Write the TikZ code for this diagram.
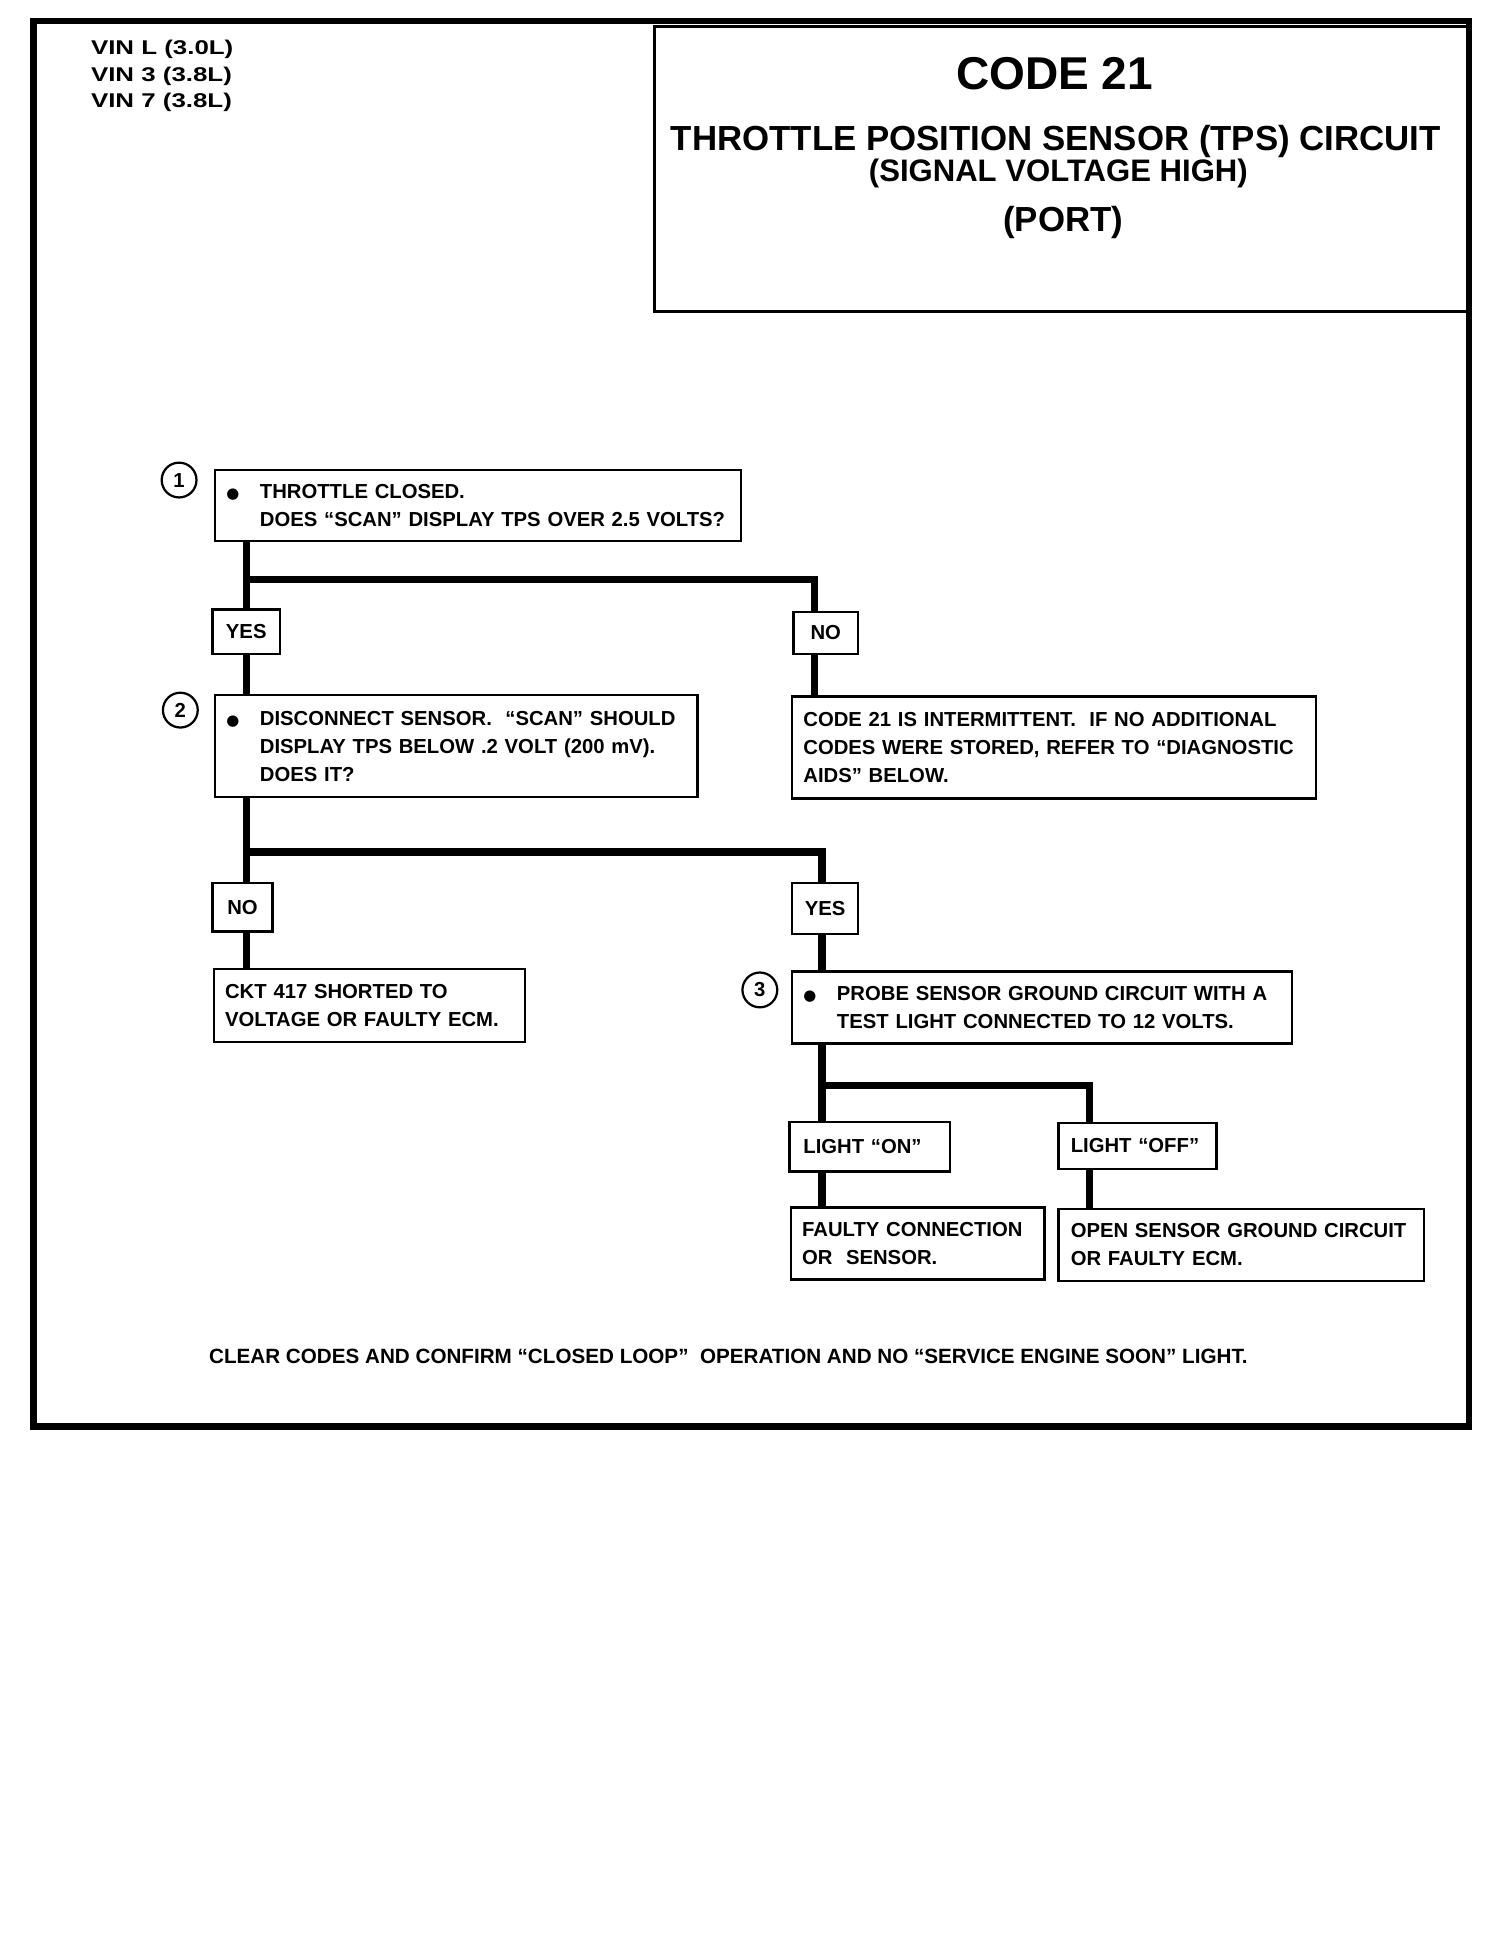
\documentclass[tikz,border=0pt]{standalone}
\usepackage{fontspec}
\setmainfont{Liberation Sans}
\newfontfamily\vinfont[FakeStretch=1.3]{Liberation Sans}
\newfontfamily\dotfont{DejaVu Sans}
\usepackage{tikz}
\usetikzlibrary{calc}
\newcommand\boxtext{\fontsize{16.3}{22.5}\selectfont\bfseries}
\newcommand\dotmark{\makebox[30pt][l]{\hspace{3pt}{\dotfont\fontsize{12}{12}\selectfont ●}}}
\tikzset{
  stepbox/.style={draw, line width=2pt, anchor=north west, align=left, inner ysep=2pt, font=\boxtext},
  tagbox/.style={draw, line width=2pt, anchor=north west, inner sep=0pt, font=\boxtext},
  stepnum/.style={draw, circle, line width=1.8pt, minimum size=28pt, inner sep=0pt, font=\boxtext},
  wire/.style={line width=6pt},
}

\begin{document}
\begin{tikzpicture}[x=1pt, y=-1pt]
      \useasboundingbox (0,0) rectangle (1209,1568);
      \draw[line width=5pt] (27,17) rectangle (1181,1147);
      \node[draw, line width=2.5pt, anchor=north west, minimum width=655pt, minimum height=229pt, inner sep=0pt] (head) at (525,20) {};
      \node[anchor=north west, inner sep=0pt, align=left, font=\vinfont\fontsize{16}{21.5}\selectfont\bfseries] (vin) at (73,32) {VIN L (3.0L)\\VIN 3 (3.8L)\\VIN 7 (3.8L)};
      \node[anchor=base, font=\fontsize{37}{40}\selectfont\bfseries] (code) at (848,72) {CODE 21};
      \node[anchor=base, font=\fontsize{28}{30}\selectfont\bfseries] (title) at (849,121) {THROTTLE POSITION SENSOR (TPS) CIRCUIT};
      \node[anchor=base, font=\fontsize{25}{28}\selectfont\bfseries] (signal) at (851,146) {(SIGNAL VOLTAGE HIGH)};
      \node[anchor=base, font=\fontsize{28}{30}\selectfont\bfseries] (port) at (855,186) {(PORT)};

      % steps and results
      \node[stepbox, inner xsep=6pt, text width=411pt, minimum height=57pt] (q1) at (172,377) {\dotmark THROTTLE CLOSED.\\\hspace*{30pt}DOES “SCAN” DISPLAY TPS OVER 2.5 VOLTS?};
      \node[stepnum] (n1) at (144,386) {1};
      \node[tagbox, minimum width=54pt, minimum height=36pt] (yes1) at (170,489) {YES};
      \node[tagbox, minimum width=52pt, minimum height=34pt] (no1) at (637,491) {NO};
      \node[stepbox, inner xsep=6pt, text width=376pt, minimum height=82pt] (q2) at (172,558) {\dotmark DISCONNECT SENSOR.\ \ “SCAN” SHOULD\\\hspace*{30pt}DISPLAY TPS BELOW .2 VOLT (200 mV).\\\hspace*{30pt}DOES IT?};
      \node[stepnum] (n2) at (145,571) {2};
      \node[stepbox, inner xsep=9pt, text width=403pt, minimum height=82pt] (r1) at (636,559) {CODE 21 IS INTERMITTENT.\ \ IF NO ADDITIONAL\\CODES WERE STORED, REFER TO “DIAGNOSTIC\\AIDS” BELOW.};
      \node[tagbox, minimum width=48pt, minimum height=39pt] (no2) at (170,709) {NO};
      \node[tagbox, minimum width=53pt, minimum height=41pt] (yes2) at (636,709) {YES};
      \node[stepbox, inner xsep=9pt, text width=232pt, minimum height=59pt] (r2) at (171,778) {CKT 417 SHORTED TO\\VOLTAGE OR FAULTY ECM.};
      \node[stepbox, inner xsep=6pt, text width=390pt, minimum height=58pt] (q3) at (636,780) {\dotmark PROBE SENSOR GROUND CIRCUIT WITH A\\\hspace*{30pt}TEST LIGHT CONNECTED TO 12 VOLTS.};
      \node[stepnum] (n3) at (611,796) {3};
      \node[stepbox, inner xsep=11pt, text width=107pt, minimum height=40pt] (on3) at (634,901) {LIGHT “ON”};
      \node[stepbox, inner xsep=10pt, text width=107pt, minimum height=37pt] (off3) at (850,902) {LIGHT “OFF”};
      \node[stepbox, inner xsep=9pt, text width=186pt, minimum height=58pt] (r3) at (635,970) {FAULTY CONNECTION\\OR\ \ SENSOR.};
      \node[stepbox, inner xsep=10pt, text width=274pt, minimum height=58pt] (r4) at (850,971) {OPEN SENSOR GROUND CIRCUIT\\OR FAULTY ECM.};
      \node[anchor=base west, inner sep=0pt, font=\fontsize{16.6}{18}\selectfont\bfseries] (note) at (168,1096) {CLEAR CODES AND CONFIRM “CLOSED LOOP”\ \ OPERATION AND NO “SERVICE ENGINE SOON” LIGHT.};

      % lines between the boxes
      \coordinate (colA) at (198,0);
      \coordinate (colB) at (655,0);
      \coordinate (colC) at (661,0);
      \coordinate (colD) at (876,0);
      \coordinate (j1) at (0,466);
      \coordinate (j2) at (0,685);
      \coordinate (j3) at (0,873);
      \draw[wire] (colA |- q1.south) -- (colA |- yes1.north);
      \draw[wire] (colA |- j1) -| (colB |- no1.north);
      \draw[wire] (colA |- yes1.south) -- (colA |- q2.north);
      \draw[wire] (colB |- no1.south) -- (colB |- r1.north);
      \draw[wire] (colA |- q2.south) -- (colA |- no2.north);
      \draw[wire] (colA |- j2) -| (colC |- yes2.north);
      \draw[wire] (colA |- no2.south) -- (colA |- r2.north);
      \draw[wire] (colC |- yes2.south) -- (colC |- q3.north);
      \draw[wire] (colC |- q3.south) -- (colC |- on3.north);
      \draw[wire] (colC |- j3) -| (colD |- off3.north);
      \draw[wire] (colC |- on3.south) -- (colC |- r3.north);
      \draw[wire] (colD |- off3.south) -- (colD |- r4.north);
\end{tikzpicture}
\end{document}
